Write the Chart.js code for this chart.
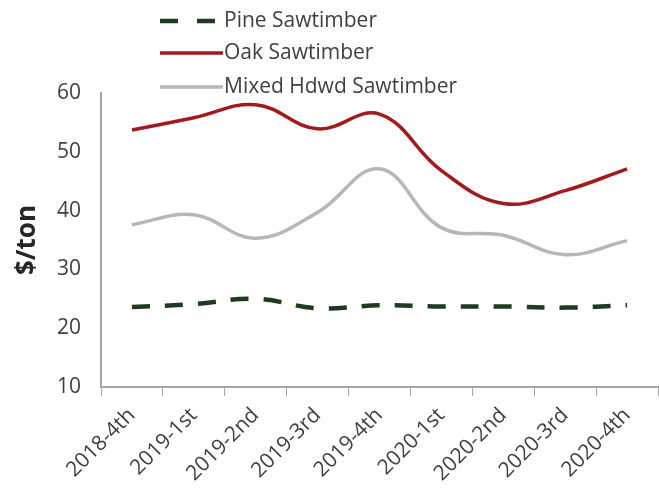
<!DOCTYPE html>
<html>
<head>
<meta charset="utf-8">
<script src="https://cdn.jsdelivr.net/npm/chart.js@4"></script>
<style>
  html, body { margin: 0; padding: 0; background: #fff; }
  #wrap { width: 659px; height: 494px; }
</style>
</head>
<body>
<div id="wrap"><canvas id="myChart" width="659" height="494"></canvas></div>
<script>
const quarters = ["2018-4th", "2019-1st", "2019-2nd", "2019-3rd", "2019-4th", "2020-1st", "2020-2nd", "2020-3rd", "2020-4th"]
const pine = [23.6, 24.1, 25.0, 23.4, 23.9, 23.7, 23.7, 23.5, 23.9]
const oak = [53.7, 55.8, 58.0, 53.9, 56.4, 46.8, 41.2, 43.4, 47.1]
const mixed = [37.6, 39.3, 35.3, 39.7, 47.1, 37.1, 35.8, 32.5, 34.9]
const yTicks = [10, 20, 30, 40, 50, 60]

const textColor = "#404040"
const axisColor = "#a6a6a6"
const fontFamily = "'Open Sans'"

// legend stacked vertically at the top, like the original
const stackedLegend = {
  id: "stackedLegend",
  afterDraw(chart) {
    const ctx = chart.ctx
    const rows = [21, 53, 87]
    ctx.save()
    chart.data.datasets.forEach((ds, i) => {
      const y = rows[i]
      ctx.beginPath()
      ctx.strokeStyle = ds.borderColor
      ctx.lineWidth = ds.borderWidth
      ctx.setLineDash(ds.borderDash ? [18, 19] : [])
      ctx.moveTo(160, y)
      ctx.lineTo(223, y)
      ctx.stroke()
      ctx.setLineDash([])
      ctx.fillStyle = textColor
      ctx.font = "21px " + fontFamily
      ctx.textBaseline = "middle"
      ctx.fillText(ds.label, 224, y)
    })
    ctx.restore()
  }
}

new Chart(document.getElementById("myChart"), {
  type: "line",
  data: {
    labels: quarters,
    datasets: [
      {
        label: "Pine Sawtimber",
        data: pine,
        borderColor: "#1f3b1f",
        borderWidth: 4.5,
        borderDash: [18, 15],
        tension: 0.4,
        pointRadius: 0
      },
      {
        label: "Oak Sawtimber",
        data: oak,
        borderColor: "#a31a1d",
        borderWidth: 3.5,
        tension: 0.4,
        pointRadius: 0
      },
      {
        label: "Mixed Hdwd Sawtimber",
        data: mixed,
        borderColor: "#b7b7b7",
        borderWidth: 3.5,
        tension: 0.4,
        pointRadius: 0
      }
    ]
  },
  options: {
    responsive: false,
    animation: false,
    layout: { padding: { top: 93, right: 1, left: 8, bottom: 0 } },
    plugins: {
      legend: { display: false },
      tooltip: { enabled: false }
    },
    scales: {
      x: {
        offset: true,
        grid: {
          offset: true,
          drawOnChartArea: false,
          drawTicks: true,
          tickLength: 9,
          color: axisColor
        },
        border: { color: axisColor, width: 2 },
        ticks: {
          color: textColor,
          font: { size: 21, family: fontFamily },
          minRotation: 45,
          maxRotation: 45,
          padding: 7
        },
        afterFit(scale) { scale.height = 107 }
      },
      y: {
        min: yTicks[0],
        max: yTicks[yTicks.length - 1],
        afterBuildTicks(scale) { scale.ticks = yTicks.map(v => ({ value: v })) },
        grid: { display: false, drawTicks: false },
        border: { color: axisColor, width: 2 },
        ticks: {
          color: textColor,
          font: { size: 21, family: fontFamily },
          padding: 20
        },
        title: {
          display: true,
          text: "$/ton",
          color: "#262626",
          font: { size: 26, weight: "bold", family: fontFamily },
          padding: { top: 4, bottom: 0 }
        },
        afterFit(scale) { scale.width = 93 }
      }
    }
  },
  plugins: [stackedLegend]
})
</script>
</body>
</html>
